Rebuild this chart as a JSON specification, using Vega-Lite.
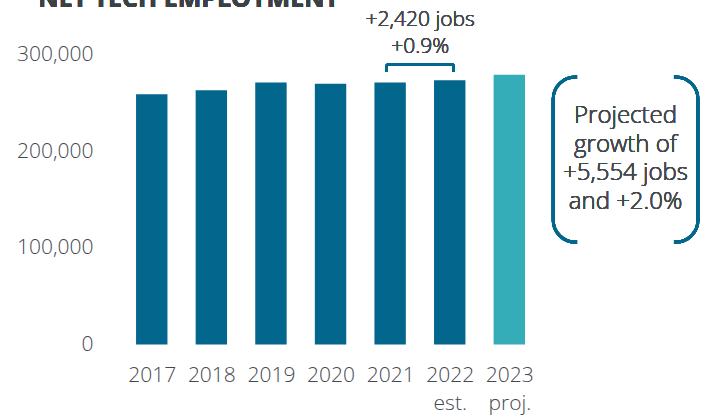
{
  "$schema": "https://vega.github.io/schema/vega-lite/v6.json",
  "autosize": {"type": "none"},
  "padding": {"left": 111, "top": 54.5, "right": 0, "bottom": 74.5},
  "width": 600,
  "height": 290,
  "background": "white",
  "config": {"view": {"stroke": null}, "font": "Open Sans"},
  "data": {"values": [
    {"year": 2017, "jobs": 259000, "type": "actual"},
    {"year": 2018, "jobs": 263000, "type": "actual"},
    {"year": 2019, "jobs": 271000, "type": "actual"},
    {"year": 2020, "jobs": 269700, "type": "actual"},
    {"year": 2021, "jobs": 271000, "type": "actual"},
    {"year": 2022, "jobs": 273420, "type": "actual"},
    {"year": 2023, "jobs": 278974, "type": "projected"}
  ]},
  "layer": [
    {
      "mark": {"type": "bar", "size": 31.4},
      "encoding": {
        "x": {"field": "year", "type": "quantitative",
          "scale": {"domain": [2016.4, 2026.3], "nice": false, "zero": false},
          "axis": {"values": [2017, 2018, 2019, 2020, 2021, 2022, 2023], "title": null, "grid": false, "domain": false, "ticks": false,
            "labelExpr": "datum.value == 2022 ? ['2022', 'est.'] : datum.value == 2023 ? ['2023', 'proj.'] : '' + datum.value",
            "labelFont": "Open Sans", "labelFontSize": 21, "labelFontWeight": 300, "labelColor": "#45494e", "labelPadding": 20, "labelLineHeight": 27.5, "labelFlush": false, "labelOverlap": false}},
        "y": {"field": "jobs", "type": "quantitative",
          "scale": {"domain": [0, 300000], "nice": false},
          "axis": {"values": [0, 100000, 200000, 300000], "format": ",d", "title": null, "grid": false, "domain": false, "ticks": false,
            "labelFont": "Open Sans", "labelFontSize": 21, "labelFontWeight": 300, "labelColor": "#45494e", "labelPadding": 18}},
        "color": {"field": "type", "type": "nominal", "scale": {"domain": ["actual", "projected"], "range": ["#02668d", "#34adb8"]}, "legend": null}
      }
    },
    {
      "mark": {"type": "rule", "color": "#02668d", "strokeWidth": 2.6},
      "encoding": {"x": {"datum": 2020.942, "type": "quantitative"}, "x2": {"datum": 2022.066}, "y": {"datum": 289400, "type": "quantitative"}}
    },
    {
      "mark": {"type": "rule", "color": "#02668d", "strokeWidth": 2.6},
      "encoding": {"x": {"datum": 2020.942, "type": "quantitative"}, "y": {"datum": 289400, "type": "quantitative"}, "y2": {"datum": 281900}}
    },
    {
      "mark": {"type": "rule", "color": "#02668d", "strokeWidth": 2.6},
      "encoding": {"x": {"datum": 2022.066, "type": "quantitative"}, "y": {"datum": 289400, "type": "quantitative"}, "y2": {"datum": 281900}}
    },
    {
      "mark": {"type": "text", "font": "Open Sans", "fontSize": 21, "fontWeight": 300, "color": "#45494e", "align": "center", "baseline": "alphabetic", "lineHeight": 27.3, "text": ["+2,420 jobs", "+0.9%"]},
      "encoding": {"x": {"datum": 2021.505, "type": "quantitative"}, "y": {"datum": 329500, "type": "quantitative"}}
    },
    {
      "mark": {"type": "rect", "cornerRadius": 22, "filled": false, "stroke": "#02668d", "strokeWidth": 3},
      "encoding": {"x": {"datum": 2023.736, "type": "quantitative"}, "x2": {"datum": 2026.165}, "y": {"datum": 276700, "type": "quantitative"}, "y2": {"datum": 106000}}
    },
    {
      "mark": {"type": "rect", "fill": "white", "stroke": null},
      "encoding": {"x": {"datum": 2024.15, "type": "quantitative"}, "x2": {"datum": 2025.75}, "y": {"datum": 281900, "type": "quantitative"}, "y2": {"datum": 100900}}
    },
    {
      "mark": {"type": "text", "font": "Open Sans", "fontSize": 24, "fontWeight": 300, "color": "#45494e", "align": "center", "baseline": "alphabetic", "lineHeight": 28.5, "text": ["Projected", "growth of", "+5,554 jobs", "and +2.0%"]},
      "encoding": {"x": {"datum": 2024.95, "type": "quantitative"}, "y": {"datum": 229100, "type": "quantitative"}}
    },
    {
      "mark": {"type": "text", "font": "Open Sans", "fontSize": 25, "fontWeight": "bold", "color": "#3b4045", "align": "left", "baseline": "alphabetic", "text": "NET TECH EMPLOYMENT"},
      "encoding": {"x": {"datum": 2015.097, "type": "quantitative"}, "y": {"datum": 349100, "type": "quantitative"}}
    }
  ]
}
